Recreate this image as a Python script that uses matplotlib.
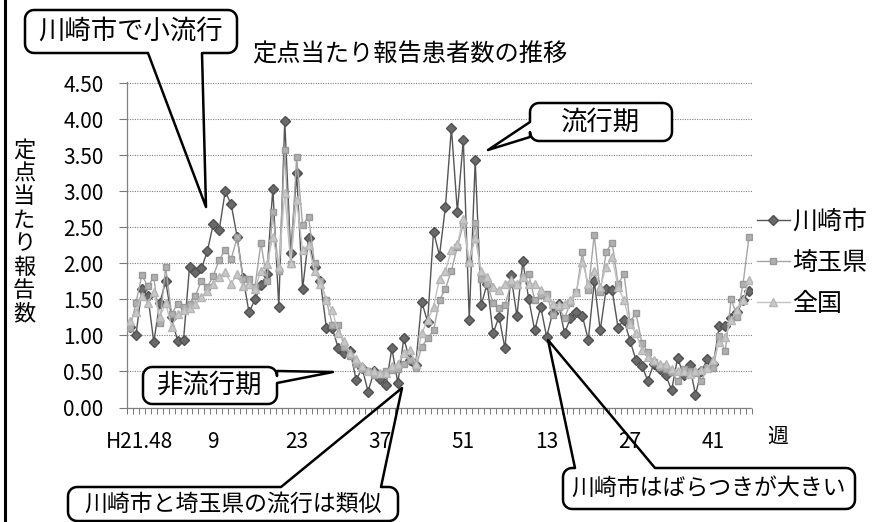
import numpy as np
import matplotlib.pyplot as plt
from matplotlib.patches import Polygon
from matplotlib.transforms import ScaledTranslation

plt.rcParams['font.family'] = ['Noto Sans CJK JP', 'DejaVu Sans']

# 定点当たり報告数 (週別) H21年48週 ～ H23年47週
kawasaki = [1.12, 1.00, 1.65, 1.55, 0.91, 1.45, 1.75, 1.25, 0.92, 0.94,
            1.95, 1.88, 1.93, 2.17, 2.55, 2.47, 3.00, 2.82, 2.37, 1.80,
            1.32, 1.50, 1.70, 1.85, 3.04, 1.40, 3.98, 2.15, 3.25, 1.65,
            2.35, 1.95, 1.75, 1.10, 1.10, 0.82, 0.75, 0.78, 0.38, 0.55,
            0.22, 0.50, 0.40, 0.31, 0.82, 0.34, 0.96, 0.66, 0.59, 1.47,
            1.19, 2.44, 2.11, 2.79, 3.88, 2.72, 3.72, 1.22, 3.43, 1.42,
            1.72, 1.03, 1.26, 0.82, 1.84, 1.27, 2.03, 1.50, 1.07, 1.40,
            0.98, 1.31, 1.44, 1.03, 1.24, 1.32, 1.27, 0.94, 1.75, 1.07,
            1.65, 1.63, 1.11, 1.22, 0.93, 0.66, 0.58, 0.37, 0.61, 0.54,
            0.45, 0.24, 0.69, 0.45, 0.59, 0.18, 0.50, 0.67, 0.60, 1.13,
            1.13, 1.24, 1.32, 1.49, 1.62]
saitama = [1.10, 1.45, 1.84, 1.68, 1.81, 1.17, 1.95, 1.30, 1.44, 1.40,
           1.44, 1.55, 1.76, 1.67, 1.83, 2.05, 2.19, 2.06, 2.36, 1.78,
           1.78, 1.67, 2.29, 1.76, 2.71, 1.90, 3.57, 1.99, 3.48, 2.53,
           2.65, 2.00, 1.75, 1.49, 1.15, 1.14, 0.84, 0.72, 0.61, 0.54,
           0.50, 0.45, 0.47, 0.50, 0.52, 0.54, 0.61, 0.66, 0.55, 0.84,
           0.96, 1.07, 1.49, 1.65, 1.90, 2.23, 2.55, 2.00, 2.56, 1.79,
           1.72, 1.45, 1.38, 1.42, 1.72, 1.70, 1.81, 1.85, 1.49, 1.56,
           1.58, 1.29, 1.40, 1.24, 1.45, 1.60, 2.16, 1.63, 2.40, 1.60,
           2.16, 2.29, 1.72, 1.85, 1.19, 1.31, 0.90, 0.77, 0.63, 0.56,
           0.53, 0.49, 0.37, 0.53, 0.51, 0.48, 0.37, 0.55, 0.55, 0.99,
           0.78, 1.51, 1.26, 1.72, 2.37]
zenkoku = [1.20, 1.33, 1.55, 1.45, 1.60, 1.25, 1.45, 1.12, 1.30, 1.35,
           1.38, 1.44, 1.53, 1.62, 1.72, 1.81, 1.88, 1.72, 1.86, 1.68,
           1.72, 1.65, 1.90, 1.99, 2.37, 1.95, 2.98, 2.00, 2.88, 2.18,
           2.25, 1.90, 1.72, 1.49, 1.35, 1.03, 0.93, 0.75, 0.68, 0.57,
           0.50, 0.50, 0.48, 0.48, 0.57, 0.61, 0.75, 0.80, 0.61, 1.03,
           1.21, 1.40, 1.79, 1.90, 2.18, 2.27, 2.62, 2.02, 2.35, 1.90,
           1.81, 1.67, 1.63, 1.72, 1.77, 1.72, 1.81, 1.72, 1.72, 1.63,
           1.53, 1.44, 1.42, 1.44, 1.49, 1.60, 2.02, 1.72, 1.90, 1.67,
           1.95, 2.09, 1.67, 1.49, 1.16, 1.03, 0.80, 0.70, 0.66, 0.61,
           0.61, 0.54, 0.50, 0.50, 0.47, 0.50, 0.52, 0.55, 0.66, 0.91,
           0.98, 1.21, 1.35, 1.49, 1.77]
week_labels = ['H21.48', '9', '23', '37', '51', '13', '27', '41']
label_step = 14

W, H = 876, 522
weeks = np.arange(len(kawasaki))

fig = plt.figure(figsize=(W / 100, H / 100), dpi=100)
ax_l, ax_r, ax_b, ax_t = 127, 752, 407.5, 81.9
ax = fig.add_axes([ax_l / W, 1 - ax_b / H, (ax_r - ax_l) / W, (ax_b - ax_t) / H])

ax.plot(weeks, kawasaki, color='#555555', lw=1.0, marker='D', ms=4.6,
        mfc='#6a6a6a', mec='#505050', label='川崎市', zorder=3)
ax.plot(weeks, saitama, color='#a5a5a5', lw=1.0, marker='s', ms=5.0,
        mfc='#b0b0b0', mec='#999999', label='埼玉県', zorder=3)
ax.plot(weeks, zenkoku, color='#c2c2c2', lw=1.0, marker='^', ms=5.4,
        mfc='#c8c8c8', mec='#b5b5b5', label='全国', zorder=3)

ax.set_xlim(-0.5, len(kawasaki) - 0.5)
ax.set_ylim(0, 4.52)
ax.set_yticks(np.arange(0, 4.51, 0.5))
ax.set_yticklabels([f'{v:.2f}' for v in np.arange(0, 4.51, 0.5)])
ax.yaxis.grid(True, color='#808080', linestyle=(0, (1, 1.2)), lw=0.8)
ax.set_axisbelow(True)

ax.set_xticks(weeks[::label_step])
ax.set_xticklabels(week_labels)
ax.set_xticks(np.arange(-0.5, len(kawasaki), 1), minor=True)
ax.tick_params(axis='x', which='major', length=0, pad=17, labelsize=15)
ax.tick_params(axis='x', which='minor', length=4, width=0.7, color='#777777', direction='out')
ax.tick_params(axis='y', length=5.8, width=0.8, color='#777777', pad=11, labelsize=15)
# 先頭ラベルは軸からはみ出さないよう右へ寄せる
first = ax.get_xticklabels()[0]
first.set_transform(first.get_transform() + ScaledTranslation(0.10, 0, fig.dpi_scale_trans))

for side in ['top', 'right']:
    ax.spines[side].set_visible(False)
for side in ['left', 'bottom']:
    ax.spines[side].set_color('#808080')
    ax.spines[side].set_linestyle((0, (1, 1)))
    ax.spines[side].set_linewidth(0.9)

ax.legend(loc='upper left', bbox_to_anchor=(1.0, 0.626), frameon=False,
          fontsize=18, handlelength=1.3, handletextpad=0.1, labelspacing=0.6,
          borderaxespad=0.0, borderpad=0.2)

fig.text(410 / W, 1 - 55 / H, '定点当たり報告患者数の推移', fontsize=17.5,
         ha='center', va='center')
fig.text(24 / W, 1 - 232 / H, '\n'.join('定点当たり報告数'), fontsize=16,
         ha='center', va='center', linespacing=1.02)
fig.text(778 / W, 1 - 437 / H, '週', fontsize=15, ha='center', va='center')

# 吹き出し（ピクセル座標で描く）
ov = fig.add_axes([0, 0, 1, 1], zorder=5)
ov.set_xlim(0, W)
ov.set_ylim(H, 0)
ov.axis('off')
ov.patch.set_alpha(0)


def rounded_rect(x0, y0, x1, y1, r, n=8):
    def arc(cx, cy, a0, a1):
        t = np.linspace(np.radians(a0), np.radians(a1), n)
        return list(zip(cx + r * np.cos(t), cy + r * np.sin(t)))
    # 上辺→右辺→下辺→左辺 の順（y は下向き）
    return {
        'tr': arc(x1 - r, y0 + r, -90, 0),
        'br': arc(x1 - r, y1 - r, 0, 90),
        'bl': arc(x0 + r, y1 - r, 90, 180),
        'tl': arc(x0 + r, y0 + r, 180, 270),
    }


def bubble(text, x0, y0, x1, y1, side, b0, b1, tip, size=19, r=9):
    c = rounded_rect(x0, y0, x1, y1, r)
    box = c['tl'] + c['tr'] + c['br'] + c['bl']
    if side == 'top':
        wedge = [(b0, y0), tip, (b1, y0)]
        outline = c['tl'] + wedge + c['tr'] + c['br'] + c['bl']
    elif side == 'right':
        wedge = [(x1, b0), tip, (x1, b1)]
        outline = c['tl'] + c['tr'] + wedge + c['br'] + c['bl']
    elif side == 'bottom':
        wedge = [(b1, y1), tip, (b0, y1)]
        outline = c['tl'] + c['tr'] + c['br'] + wedge + c['bl']
    else:
        wedge = [(x0, b1), tip, (x0, b0)]
        outline = c['tl'] + c['tr'] + c['br'] + c['bl'] + wedge
    ov.add_patch(Polygon(box, closed=True, facecolor='white', edgecolor='none'))
    ov.add_patch(Polygon(outline, closed=True, fill=False, edgecolor='black',
                         lw=1.8, joinstyle='round'))
    ov.text((x0 + x1) / 2, (y0 + y1) / 2, text, fontsize=size,
            ha='center', va='center')


bubble('川崎市で小流行', 25, 10, 237, 53, 'bottom', 148, 202, (206, 207))
bubble('流行期', 530, 103, 672, 141, 'left', 122, 137, (488, 150))
bubble('非流行期', 143, 367, 277, 404, 'right', 371, 383, (333, 372))
bubble('川崎市と埼玉県の流行は類似', 68, 487, 398, 521, 'top', 281, 381, (402, 388), size=16.5)
bubble('川崎市はばらつきが大きい', 563, 468, 855, 509, 'top', 575, 655, (548, 340), size=16.5)

# 左端の罫線
ov.plot([5, 5], [0, H], color='black', lw=2.2)

fig.savefig('out.png', dpi=100)
